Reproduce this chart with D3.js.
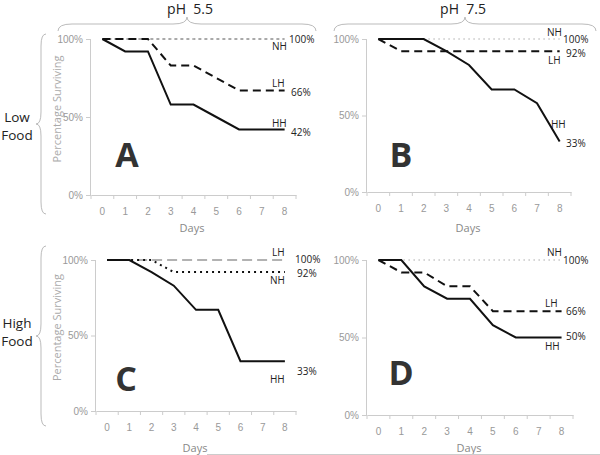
<!DOCTYPE html>
<html>
<head>
<meta charset="utf-8">
<script src="https://cdn.jsdelivr.net/npm/d3@7"></script>
<style>
  body { margin: 0; background: #fff; }
  svg { display: block; font-family: "Open Sans", "DejaVu Sans", sans-serif; }
</style>
</head>
<body>
<svg id="chart" width="600" height="455"></svg>
<script>
// days on the x axis
const days = [0, 1, 2, 3, 4, 5, 6, 7, 8];
const yTicks = [0, 50, 100];

// percentage surviving
const aNH = [100, 100, 100, 100, 100, 100, 100, 100, 100];
const aLH = [100, 100, 100, 83, 83, 75, 67, 67, 67];
const aHH = [100, 92, 92, 58, 58, 50, 42, 42, 42];

const bNH = [100, 100, 100, 100, 100, 100, 100, 100, 100];
const bLH = [100, 92, 92, 92, 92, 92, 92, 92, 92];
const bHH = [100, 100, 100, 92, 83, 67, 67, 58, 33];

const cLH = [100, 100, 100, 100, 100, 100, 100, 100, 100];
const cNH = [100, 100, 100, 92, 92, 92, 92, 92, 92];
const cHH = [100, 100, 92, 83, 67, 67, 33, 33, 33];

const dNH = [100, 100, 100, 100, 100, 100, 100, 100, 100];
const dLH = [100, 92, 92, 83, 83, 67, 67, 67, 67];
const dHH = [100, 100, 83, 75, 75, 58, 50, 50, 50];

// line styles
const styles = {
  hh: { stroke: "#111", width: 2, dash: null },
  lh: { stroke: "#111", width: 2, dash: "8,5" },
  lhGrey: { stroke: "#999", width: 1.6, dash: "10,5" },
  nhDash: { stroke: "#555", width: 1, dash: "3,3" },
  nhDot: { stroke: "#aaa", width: 1.2, dash: "1.5,3.5" },
  nhDotBold: { stroke: "#111", width: 2, dash: "2,4" }
};

const panels = [
  { letter: "A", x0: 91, x1: 296, yTop: 39, yBot: 195, yTitle: true,
    series: [
      { v: aNH, s: "nhDash" }, { v: aLH, s: "lh" }, { v: aHH, s: "hh" }],
    labels: [
      { t: "NH", x: 272, y: 50 }, { t: "100%", x: 289, y: 43 },
      { t: "LH", x: 272, y: 87 }, { t: "66%", x: 291, y: 96 },
      { t: "HH", x: 272, y: 127 }, { t: "42%", x: 291, y: 136 }],
    letterPos: [127, 167], daysPos: [192, 232] },
  { letter: "B", x0: 367, x1: 571, yTop: 39, yBot: 192, yTitle: false,
    series: [
      { v: bNH, s: "nhDot" }, { v: bLH, s: "lh" }, { v: bHH, s: "hh" }],
    labels: [
      { t: "NH", x: 547, y: 36 }, { t: "100%", x: 563, y: 43 },
      { t: "92%", x: 566, y: 57 }, { t: "LH", x: 548, y: 64 },
      { t: "HH", x: 551, y: 128 }, { t: "33%", x: 566, y: 147 }],
    letterPos: [401, 167], daysPos: [468, 232] },
  { letter: "C", x0: 96, x1: 296, yTop: 260, yBot: 411, yTitle: true,
    series: [
      { v: cLH, s: "lhGrey" }, { v: cNH, s: "nhDotBold" }, { v: cHH, s: "hh" }],
    labels: [
      { t: "LH", x: 272, y: 256 }, { t: "100%", x: 295, y: 263 },
      { t: "92%", x: 297, y: 277 }, { t: "NH", x: 270, y: 284 },
      { t: "HH", x: 270, y: 383 }, { t: "33%", x: 297, y: 375 }],
    letterPos: [126, 391], daysPos: [195, 452] },
  { letter: "D", x0: 367, x1: 573, yTop: 260, yBot: 415, yTitle: false,
    series: [
      { v: dNH, s: "nhDot" }, { v: dLH, s: "lh" }, { v: dHH, s: "hh" }],
    labels: [
      { t: "NH", x: 547, y: 256 }, { t: "100%", x: 563, y: 264 },
      { t: "LH", x: 545, y: 307 }, { t: "66%", x: 566, y: 315 },
      { t: "50%", x: 566, y: 340 }, { t: "HH", x: 545, y: 350 }],
    letterPos: [401, 385], daysPos: [469, 452] }
];

const svg = d3.select("#chart");

panels.forEach(p => {
  const x = d3.scaleBand().domain(days).range([p.x0, p.x1]);
  const y = d3.scaleLinear().domain([0, 100]).range([p.yBot, p.yTop]);
  const g = svg.append("g");

  // y axis
  const yAxis = g.append("g")
    .attr("transform", `translate(${p.x0},0)`)
    .call(d3.axisLeft(y).tickValues(yTicks).tickFormat(d => d + "%").tickSize(5).tickPadding(3));
  yAxis.select(".domain").attr("stroke", "#ccc").attr("d", `M-0.5,${p.yBot}V${p.yTop}`);
  yAxis.selectAll(".tick line").attr("stroke", "#ccc");
  yAxis.selectAll("text").attr("fill", "#999").style("font-size", "10px");

  // x axis, labels at band centres, ticks at band boundaries
  const xAxis = g.append("g")
    .attr("transform", `translate(0,${p.yBot})`)
    .call(d3.axisBottom(x).tickSize(0).tickPadding(13));
  xAxis.select(".domain").attr("stroke", "#ccc");
  xAxis.selectAll("text").attr("fill", "#999").style("font-size", "10px");
  g.append("g").selectAll("line")
    .data(days.map(d => x(d)).concat([p.x1]))
    .join("line")
    .attr("x1", d => d).attr("x2", d => d)
    .attr("y1", p.yBot).attr("y2", p.yBot + 4)
    .attr("stroke", "#ccc");

  // series
  const line = d3.line()
    .x((d, i) => x(days[i]) + x.bandwidth() / 2)
    .y(d => y(d));
  p.series.forEach(s => {
    const st = styles[s.s];
    g.append("path")
      .datum(s.v)
      .attr("d", line)
      .attr("fill", "none")
      .attr("stroke", st.stroke)
      .attr("stroke-width", st.width)
      .attr("stroke-dasharray", st.dash);
  });

  // end labels
  g.selectAll("text.end")
    .data(p.labels)
    .join("text")
    .attr("class", "end")
    .attr("x", d => d.x).attr("y", d => d.y)
    .text(d => d.t)
    .attr("fill", "#222")
    .style("font-size", "10px");

  // panel letter
  g.append("text")
    .attr("x", p.letterPos[0]).attr("y", p.letterPos[1])
    .attr("text-anchor", "middle")
    .text(p.letter)
    .attr("fill", "#333")
    .style("font-size", "34px")
    .style("font-weight", "bold");

  // Days
  g.append("text")
    .attr("x", p.daysPos[0]).attr("y", p.daysPos[1])
    .attr("text-anchor", "middle")
    .text("Days")
    .attr("fill", "#888")
    .style("font-size", "11px");

  if (p.yTitle) {
    const cy = (p.yTop + p.yBot) / 2 - 8;
    g.append("text")
      .attr("transform", `translate(61,${cy}) rotate(-90)`)
      .attr("text-anchor", "middle")
      .text("Percentage Surviving")
      .attr("fill", "#aaa")
      .style("font-size", "11px");
  }
});

// curly braces
function hBrace(x0, x1, yb, h) {
  const m = (x0 + x1) / 2, q = 14;
  return `M${x0},${yb + h} Q${x0},${yb} ${x0 + q},${yb} L${m - q},${yb} Q${m},${yb} ${m},${yb - h}`
    + ` Q${m},${yb} ${m + q},${yb} L${x1 - q},${yb} Q${x1},${yb} ${x1},${yb + h}`;
}
function vBrace(xb, y0, y1, w) {
  const m = (y0 + y1) / 2, q = 12;
  return `M${xb + w},${y0} Q${xb},${y0} ${xb},${y0 + q} L${xb},${m - q} Q${xb},${m} ${xb - w},${m}`
    + ` Q${xb},${m} ${xb},${m + q} L${xb},${y1 - q} Q${xb},${y1} ${xb + w},${y1}`;
}
const braceData = [
  hBrace(58, 316, 24, 7), hBrace(334, 596, 24, 7),
  vBrace(41, 34, 214, 5), vBrace(41, 246, 426, 5)
];
svg.append("g").selectAll("path")
  .data(braceData)
  .join("path")
  .attr("d", d => d)
  .attr("fill", "none")
  .attr("stroke", "#bbb")
  .attr("stroke-width", 1);

// headers
const headers = [{ t: "pH  5.5", x: 190 }, { t: "pH  7.5", x: 463 }];
svg.append("g").selectAll("text")
  .data(headers)
  .join("text")
  .attr("x", d => d.x).attr("y", 14)
  .attr("text-anchor", "middle")
  .style("white-space", "pre")
  .attr("xml:space", "preserve")
  .text(d => d.t)
  .attr("fill", "#222")
  .style("font-size", "14px");

// row labels
const rows = [{ a: "Low", b: "Food", y: 122 }, { a: "High", b: "Food", y: 328 }];
rows.forEach(r => {
  svg.append("text").attr("x", 17).attr("y", r.y).attr("text-anchor", "middle")
    .text(r.a).attr("fill", "#222").style("font-size", "13.5px");
  svg.append("text").attr("x", 17).attr("y", r.y + 18).attr("text-anchor", "middle")
    .text(r.b).attr("fill", "#222").style("font-size", "13.5px");
});

// bottom rule
svg.append("line")
  .attr("x1", 207).attr("x2", 600).attr("y1", 454.5).attr("y2", 454.5)
  .attr("stroke", "#ccc");
</script>
</body>
</html>
